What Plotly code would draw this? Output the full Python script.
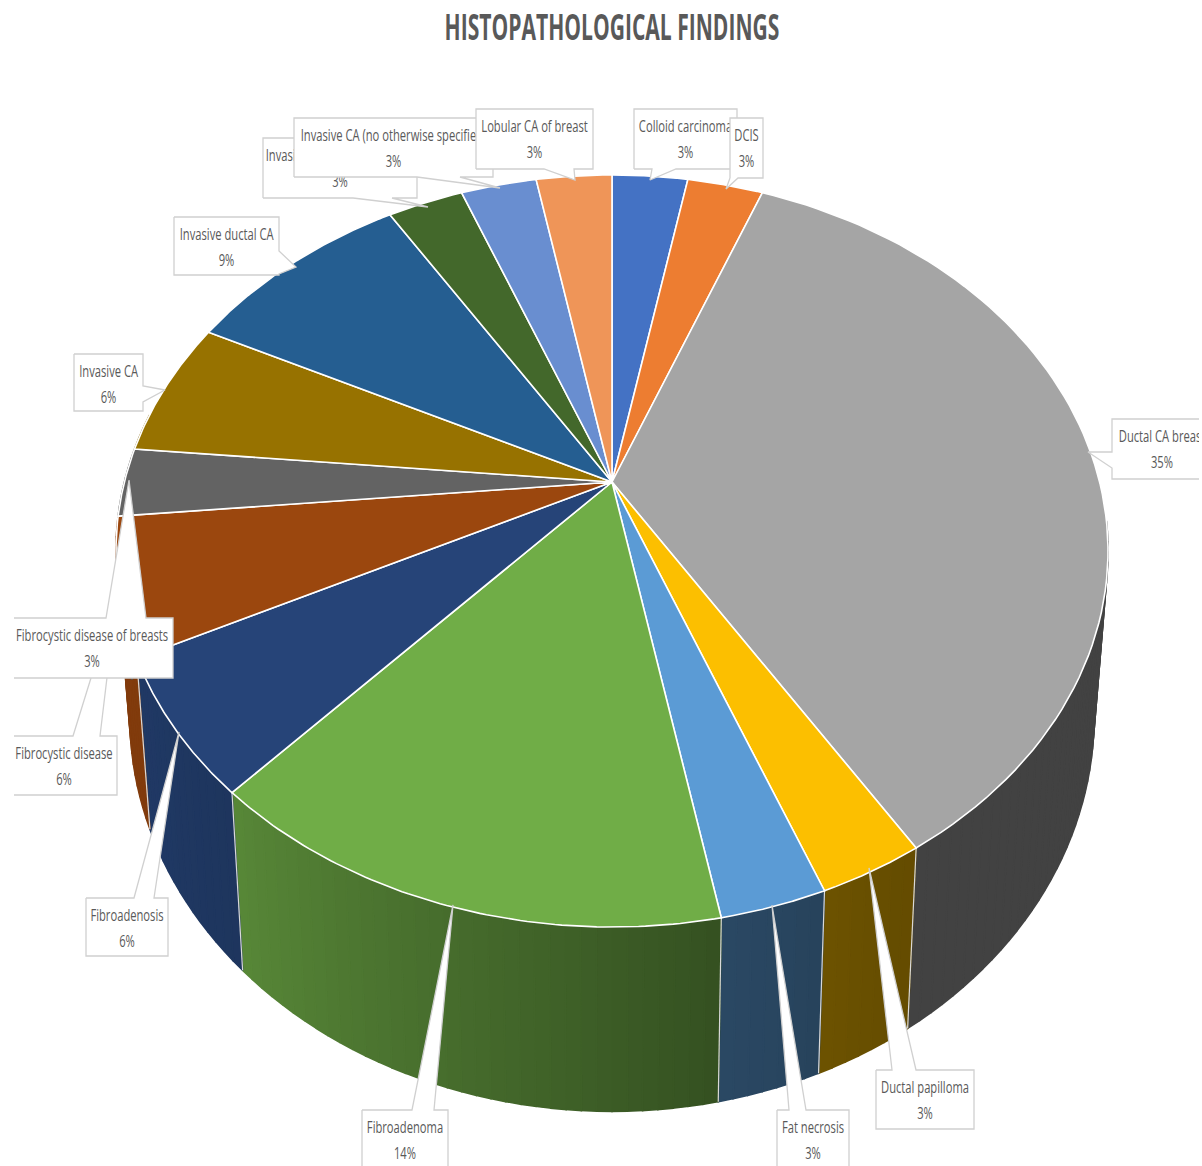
import numpy as np
import plotly.graph_objects as go

# Histopathology case counts per diagnosis, clockwise from twelve o'clock
diagnoses = ["Colloid carcinoma", "DCIS", "Ductal CA breast", "Ductal papilloma", "Fat necrosis",
             "Fibroadenoma", "Fibroadenosis", "Fibrocystic disease", "Fibrocystic disease of breasts",
             "Invasive CA", "Invasive ductal CA", "Invasive carcinoma of breast",
             "Invasive CA (no otherwise specified)", "Lobular CA of breast"]
cases = [1, 1, 12, 1, 1, 5, 2, 2, 1, 2, 3, 1, 1, 1]
colors = ["#4472c4", "#ed7d31", "#a5a5a5", "#fcbf00", "#5b9bd5", "#70ad47", "#264478",
          "#9b470e", "#636363", "#977200", "#255e91", "#43682b", "#698ed0", "#ef9558"]
percent_labels = ["3%", "3%", "35%", "3%", "3%", "14%", "6%", "6%", "3%", "6%", "9%", "3%", "3%", "3%"]

FONT = "Open Sans"
TEXT = "#595959"
EDGE = "#d0d0d0"

# Perspective projection of the unit disc onto the page
CX, CY, KX, A, C = 612.0, 482.0, 487.6, -274.9, 0.1835


def top_rim(theta):
    x, y = np.sin(theta), np.cos(theta)
    d = 1 + C * y
    return CX + KX * x / d, (A * y + CY) / d


def bottom_rim(theta):
    x, y = top_rim(theta)
    return CX + 0.972 * (x - CX), 1.05 * y + 138


def wall_shade(theta):
    deg = np.degrees(theta)
    return np.interp(deg, [150, 170, 222, 240, 300], [0.40, 0.47, 0.78, 0.83, 0.85])


def scaled(hex_color, k):
    rgb = [int(hex_color[i:i + 2], 16) for i in (1, 3, 5)]
    return "rgb(%d,%d,%d)" % tuple(round(v * k) for v in rgb)


fig = go.Figure()
fractions = np.cumsum([0] + cases) / sum(cases)
angles = fractions * 2 * np.pi

# Side walls first, only on the visible front: narrow closed strips for smooth shading
for start, end, color, name in zip(angles[:-1], angles[1:], colors, diagnoses):
    lo, hi = max(start, np.radians(96)), min(end, np.radians(281))
    if hi <= lo:
        continue
    steps = max(1, int(np.degrees(hi - lo) / 1.5))
    edges = np.linspace(lo, hi, steps + 1)
    for a, b in zip(edges[:-1], edges[1:]):
        ta = np.linspace(a, b, 3)
        tx, ty = top_rim(ta)
        bx, by = bottom_rim(ta[::-1])
        shade = scaled(color, wall_shade((a + b) / 2))
        fig.add_trace(go.Scatter(x=np.r_[tx, bx, tx[0]], y=np.r_[ty, by, ty[0]], mode="lines", fill="toself",
                                 fillcolor=shade, line=dict(color=shade, width=1.6),
                                 name=name, hoverinfo="name", showlegend=False))

# Seams between neighbouring walls on the visible side
for theta in angles[1:-1]:
    if np.pi * 0.75 < theta < np.pi * 1.4:
        tx, ty = top_rim(theta)
        bx, by = bottom_rim(theta)
        fig.add_trace(go.Scatter(x=[tx, bx], y=[ty, by], mode="lines",
                                 line=dict(color="#d9d9d9", width=1.2),
                                 hoverinfo="skip", showlegend=False))

# Top face of every slice
for start, end, color, name in zip(angles[:-1], angles[1:], colors, diagnoses):
    t = np.linspace(start, end, 80)
    rx, ry = top_rim(t)
    fig.add_trace(go.Scatter(x=np.r_[CX, rx, CX], y=np.r_[CY, ry, CY], mode="lines", fill="toself",
                             fillcolor=color, line=dict(color="#ffffff", width=1.6),
                             name=name, hoverinfo="name", showlegend=False))

# Callouts, bottom of the stack first: index, box edges, wedge tip, wedge base, wedge side
callouts = [
    (7, 14, 117, 736, 795, 117, 594, (73, 100), "t"),
    (11, 263, 417, 138, 198, 428, 207, (353, 392), "b"),
    (12, 294, 493, 118, 177, 500, 188, (417, 460), "b"),
    (13, 476, 593, 109, 169, 575, 180, (544, 574), "b"),
    (0, 634, 737, 109, 169, 650, 180, (652, 676), "b"),
    (1, 730, 763, 118, 178, 726, 189, (730, 738), "b"),
    (2, 1112, 1240, 419, 479, 1088, 452, (452, 468), "l"),
    (10, 174, 279, 217, 275, 296, 267, (251, 274), "r"),
    (9, 74, 143, 354, 411, 165, 390, (386, 402), "r"),
    (8, 14, 173, 618, 678, 129, 480, (106, 146), "t"),
    (6, 86, 168, 898, 956, 179, 732, (134, 154), "t"),
    (5, 362, 448, 1110, 1190, 453, 905, (412, 434), "t"),
    (4, 777, 849, 1110, 1190, 772, 905, (789, 806), "t"),
    (3, 876, 974, 1070, 1129, 869, 868, (892, 916), "t"),
]

for idx, left, right, top, bottom, tipx, tipy, (p, q), side in callouts:
    if side == "t":
        pts = [(left, top), (p, top), (tipx, tipy), (q, top), (right, top), (right, bottom), (left, bottom)]
        if left > 14:
            pts.append((left, top))
    elif side == "b":
        pts = [(left, bottom), (left, top), (right, top), (right, bottom), (q, bottom), (tipx, tipy), (p, bottom), (left, bottom)]
    elif side == "l":
        pts = [(right, top), (left, top), (left, p), (tipx, tipy), (left, q), (left, bottom), (right, bottom)]
    else:
        pts = [(left, top), (right, top), (right, p), (tipx, tipy), (right, q), (right, bottom), (left, bottom), (left, top)]
    xs, ys = zip(*pts)
    fig.add_trace(go.Scatter(x=xs, y=ys, mode="lines", fill="toself", fillcolor="#ffffff",
                             line=dict(color=EDGE, width=1.3), hoverinfo="skip", showlegend=False))
    mid = (left + right) / 2 if right < 1202 else 1162
    if idx == 7 or idx == 8:
        mid = {7: 64, 8: 92}[idx]
    fig.add_trace(go.Scatter(x=[mid, mid], y=[top + 19, top + 45], mode="text",
                             text=[diagnoses[idx], percent_labels[idx]],
                             textposition="middle center",
                             textfont=dict(family=FONT, size=16, color=TEXT),
                             hoverinfo="skip", showlegend=False))

# Narrow blank strip along the right edge of the page
fig.add_trace(go.Scatter(x=[1199, 1202, 1202, 1199, 1199], y=[400, 400, 500, 500, 400], mode="lines",
                         fill="toself", fillcolor="#ffffff", line=dict(color="#ffffff", width=0),
                         hoverinfo="skip", showlegend=False))

fig.add_trace(go.Scatter(x=[612], y=[31], mode="text", text=["<b>HISTOPATHOLOGICAL FINDINGS</b>"],
                         textposition="middle center",
                         textfont=dict(family=FONT, size=36, color=TEXT),
                         hoverinfo="skip", showlegend=False))

fig.update_layout(
    width=1202, height=1166, margin=dict(l=0, r=0, t=0, b=0),
    paper_bgcolor="#ffffff", plot_bgcolor="#ffffff", showlegend=False,
    xaxis=dict(range=[0, 1202], visible=False, fixedrange=True),
    yaxis=dict(range=[1166, 0], visible=False, fixedrange=True),
)

# Condense the text horizontally around its own centre; the chart's narrow face is not installed
condense = """
var gd = document.getElementById('{plot_id}');
gd.querySelectorAll('.textpoint text').forEach(function (t) {
  var box = t.getBBox(), c = box.x + box.width / 2;
  var k = t.textContent.indexOf('HISTO') === 0 ? 0.585 : 0.7;
  var old = t.getAttribute('transform') || '';
  t.setAttribute('transform', old + ' translate(' + c + ' 0) scale(' + k + ' 1) translate(' + (-c) + ' 0)');
});
"""
fig.write_html("out.html", post_script=condense)
